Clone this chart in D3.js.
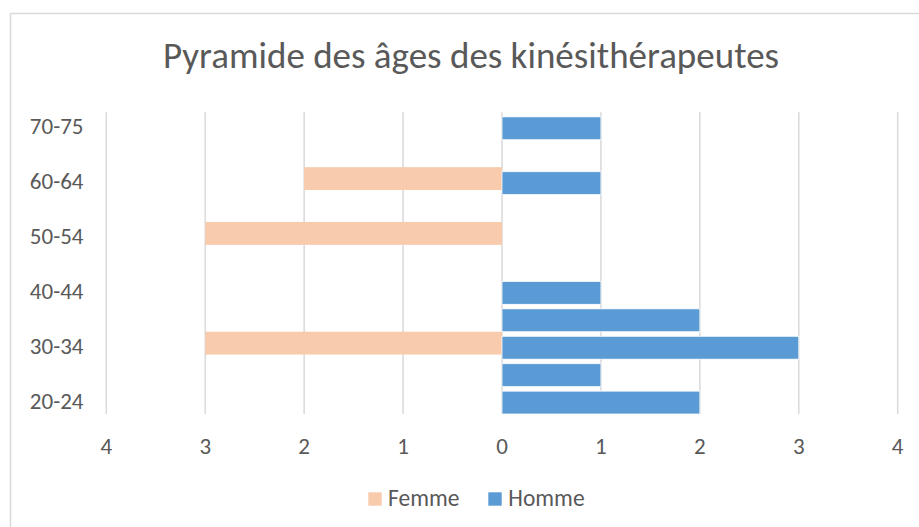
<!DOCTYPE html>
<html>
<head>
<meta charset="utf-8">
<script src="https://cdn.jsdelivr.net/npm/d3@7"></script>
<style>
  html, body { margin: 0; padding: 0; background: #fff; }
  svg { display: block; }
  text { font-family: Calibri, Carlito, Lato, sans-serif; fill: #595959; }
</style>
</head>
<body>
<svg id="chart" width="919" height="527"></svg>
<script>
// ---- Data ----
const categories = ["20-24","25-29","30-34","35-39","40-44","45-49","50-54","55-59","60-64","65-69","70-75"];
const femme = [0, 0, 3, 0, 0, 0, 3, 0, 2, 0, 0];
const homme = [2, 1, 3, 2, 1, 0, 0, 0, 1, 0, 1];
const xTicks = [-4, -3, -2, -1, 0, 1, 2, 3, 4];
const seriesNames = ["Femme", "Homme"];
const seriesColors = ["#F8CBAD", "#5B9BD5"];
const title = "Pyramide des âges des kinésithérapeutes";

// ---- Layout ----
const W = 919, H = 527;
const plot = { left: 106.3, right: 897.7, top: 112.3, bottom: 414 };
const svg = d3.select("#chart");

// chart border (only top & left visible in the reference)
svg.append("line").attr("x1", 10.5).attr("x2", W).attr("y1", 13.5).attr("y2", 13.5)
  .attr("stroke", "#d9d9d9").attr("stroke-width", 1.5);
svg.append("line").attr("x1", 10.5).attr("x2", 10.5).attr("y1", 13.5).attr("y2", H)
  .attr("stroke", "#d9d9d9").attr("stroke-width", 1.5);

const x = d3.scaleLinear().domain([-4, 4]).range([plot.left, plot.right]);
const y = d3.scaleBand().domain(categories).range([plot.bottom, plot.top]).paddingInner(0).paddingOuter(0);

// Excel-like overlap 80%, gap 0
const overlap = 0.8;
const barH = y.bandwidth() / (2 - overlap);
const offset = barH * (1 - overlap) / 2;

// gridlines
svg.append("g").selectAll("line").data(xTicks).join("line")
  .attr("x1", d => x(d)).attr("x2", d => x(d))
  .attr("y1", plot.top).attr("y2", plot.bottom)
  .attr("stroke", "#d9d9d9").attr("stroke-width", 1.5);

// x tick labels
svg.append("g").selectAll("text").data(xTicks).join("text")
  .attr("x", d => x(d)).attr("y", 453.5)
  .attr("text-anchor", "middle").attr("font-size", 23)
  .text(d => Math.abs(d));

// y labels (every second category)
svg.append("g").selectAll("text").data(categories.filter((c, i) => i % 2 === 0)).join("text")
  .attr("x", 83.5).attr("y", d => y(d) + y.bandwidth() / 2)
  .attr("dy", "0.36em")
  .attr("text-anchor", "end").attr("font-size", 23)
  .text(d => d);

// bars
const femmeData = categories.map((c, i) => ({ c, v: femme[i] })).filter(d => d.v > 0);
const hommeData = categories.map((c, i) => ({ c, v: homme[i] })).filter(d => d.v > 0);

svg.append("g").selectAll("rect").data(femmeData).join("rect")
  .attr("x", d => x(-d.v)).attr("width", d => x(0) - x(-d.v))
  .attr("y", d => y(d.c) + y.bandwidth() / 2 - offset - barH / 2)
  .attr("height", barH)
  .attr("fill", seriesColors[0]);

svg.append("g").selectAll("rect").data(hommeData).join("rect")
  .attr("x", x(0)).attr("width", d => x(d.v) - x(0))
  .attr("y", d => y(d.c) + y.bandwidth() / 2 + offset - barH / 2)
  .attr("height", barH)
  .attr("fill", seriesColors[1])
  .attr("stroke", "#ffffff").attr("stroke-width", 0.75);

// title
svg.append("text").attr("x", 471).attr("y", 68.3)
  .attr("text-anchor", "middle").attr("font-size", 37)
  .text(title);

// legend
const legendItems = [
  { name: seriesNames[0], color: seriesColors[0], sx: 368.3, tx: 388 },
  { name: seriesNames[1], color: seriesColors[1], sx: 488.3, tx: 508.3 }
];
const lg = svg.append("g");
lg.selectAll("rect").data(legendItems).join("rect")
  .attr("x", d => d.sx).attr("y", 492.3).attr("width", 13.4).attr("height", 13.4)
  .attr("fill", d => d.color);
lg.selectAll("text").data(legendItems).join("text")
  .attr("x", d => d.tx).attr("y", 505.7).attr("font-size", 23.5)
  .text(d => d.name);
</script>
</body>
</html>
